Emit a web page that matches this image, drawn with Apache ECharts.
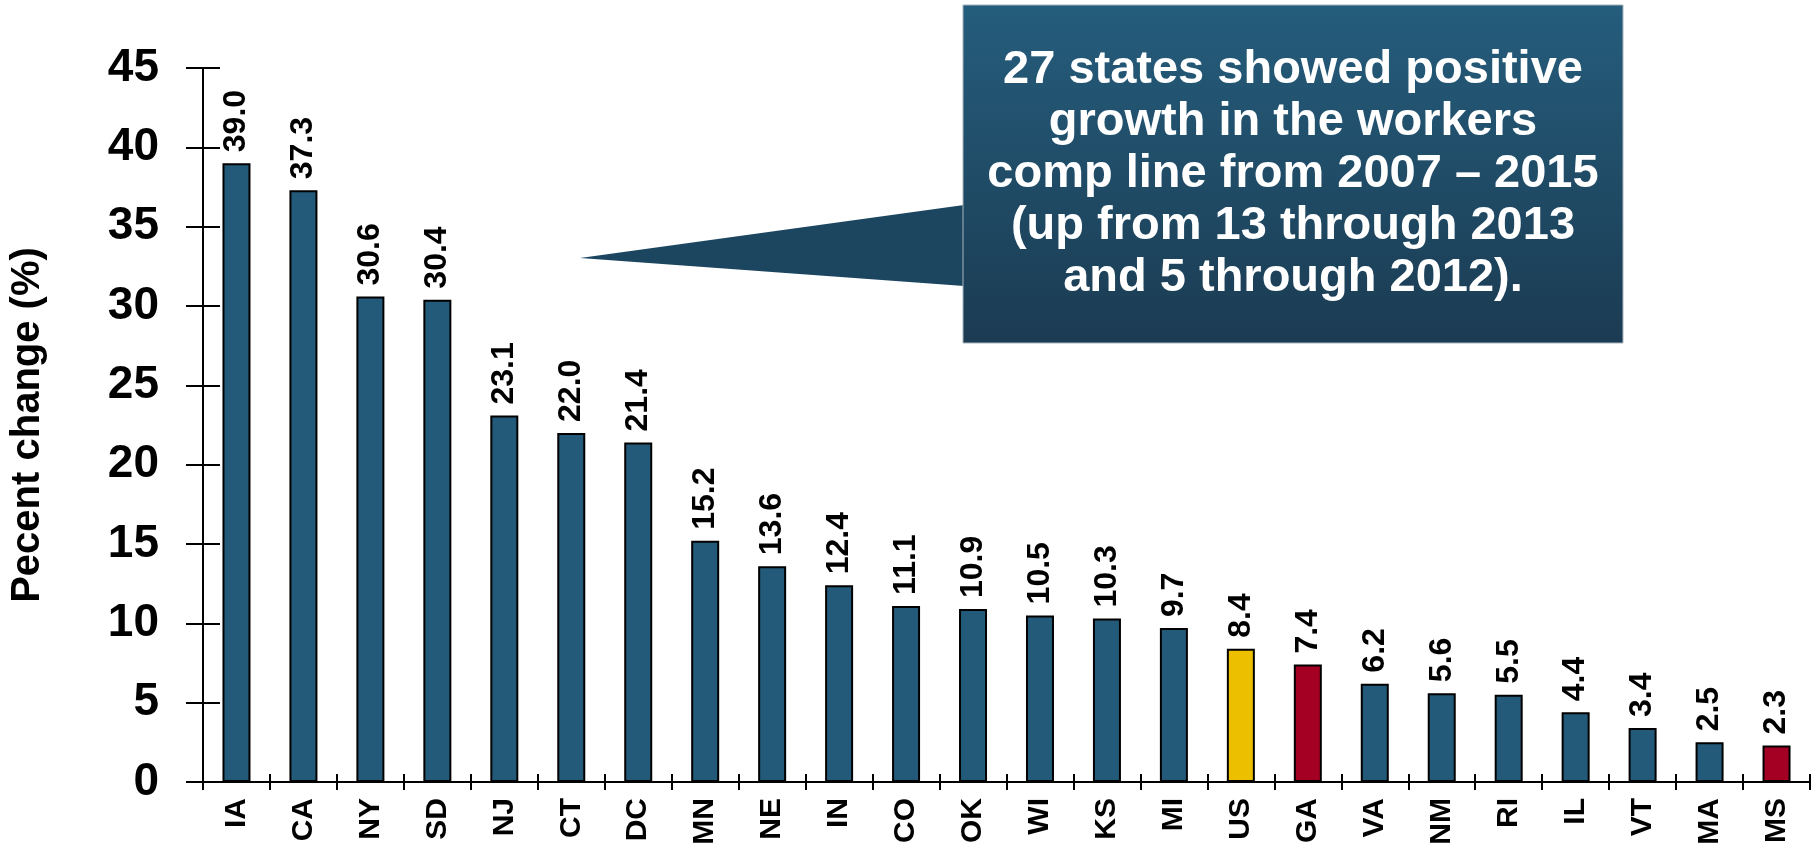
<!DOCTYPE html>
<html>
<head>
<meta charset="utf-8">
<script src="https://cdn.jsdelivr.net/npm/echarts@6/dist/echarts.min.js"></script>
<style>
  html, body { margin: 0; padding: 0; background: #fff; }
  #main { width: 1814px; height: 850px; }
</style>
</head>
<body>
<div id="main"></div>
<script>
// states, ordered as in the chart
var states = ['IA','CA','NY','SD','NJ','CT','DC','MN','NE','IN','CO','OK','WI','KS','MI','US','GA','VA','NM','RI','IL','VT','MA','MS'];
// percent change 2007-2015
var pctChange = [39.0,37.3,30.6,30.4,23.1,22.0,21.4,15.2,13.6,12.4,11.1,10.9,10.5,10.3,9.7,8.4,7.4,6.2,5.6,5.5,4.4,3.4,2.5,2.3];
var yTicks = [0,5,10,15,20,25,30,35,40,45];
var calloutLines = [
  '27 states showed positive',
  'growth in the workers',
  'comp line from 2007 \u2013 2015',
  '(up from 13 through 2013',
  'and 5 through 2012).'
];

var FONT = "'Liberation Sans', Arial, sans-serif";
var BLUE = '#235a79', YELLOW = '#ecbf00', RED = '#a30024';

function barColor(st) {
  if (st === 'US') return YELLOW;
  if (st === 'GA' || st === 'MS') return RED;
  return BLUE;
}

var myChart = echarts.init(document.getElementById('main'));

var barData = pctChange.map(function (v, i) {
  return { value: v, itemStyle: { color: barColor(states[i]) } };
});

var option = {
  animation: false,
  backgroundColor: '#fff',
  grid: { left: 202, right: 4, top: 68, bottom: 68, containLabel: false },
  xAxis: [{
    type: 'category',
    data: states,
    position: 'bottom',
    axisLine: { lineStyle: { color: '#000', width: 2 } },
    axisTick: { show: true, length: 8, lineStyle: { color: '#000', width: 2 } },
    axisLabel: {
      rotate: 90, margin: 16, fontSize: 30, fontWeight: 'bold',
      color: '#000', fontFamily: FONT, interval: 0
    }
  }, {
    // second axis only to make the ticks cross the line
    type: 'category',
    data: states,
    position: 'bottom',
    axisLine: { show: false },
    axisTick: { show: true, inside: true, length: 8, lineStyle: { color: '#000', width: 2 } },
    axisLabel: { show: false }
  }],
  yAxis: [{
    type: 'value',
    min: yTicks[0],
    max: yTicks[yTicks.length - 1],
    interval: 5,
    position: 'left',
    name: 'Pecent change (%)',
    nameLocation: 'middle',
    nameGap: 155,
    nameTextStyle: { fontSize: 40, fontWeight: 'bold', color: '#000', fontFamily: FONT },
    axisLine: { show: true, lineStyle: { color: '#000', width: 2 } },
    axisTick: { show: true, length: 17, lineStyle: { color: '#000', width: 2 } },
    axisLabel: { margin: 44, fontSize: 46, fontWeight: 'bold', color: '#000', fontFamily: FONT },
    splitLine: { show: false }
  }, {
    type: 'value',
    min: yTicks[0],
    max: yTicks[yTicks.length - 1],
    interval: 5,
    position: 'left',
    axisLine: { show: false },
    axisTick: { show: true, inside: true, length: 17, lineStyle: { color: '#000', width: 2 } },
    axisLabel: { show: false },
    splitLine: { show: false }
  }],
  series: [{
    type: 'bar',
    data: barData,
    barWidth: 28,
    itemStyle: { borderColor: '#000', borderWidth: 2 },
    label: {
      show: true,
      position: 'top',
      rotate: 90,
      align: 'left',
      verticalAlign: 'middle',
      distance: 11,
      fontSize: 32,
      fontWeight: 'bold',
      color: '#000',
      fontFamily: FONT,
      formatter: function (p) { return p.value.toFixed(1); }
    }
  }],
  graphic: [{
    type: 'polygon',
    shape: { points: [[580, 258], [964, 205], [964, 286]] },
    style: { fill: '#1c4660' },
    z: 10
  }, {
    type: 'rect',
    shape: { x: 963, y: 5, width: 660, height: 338 },
    style: {
      fill: new echarts.graphic.LinearGradient(0, 0, 0, 1, [
        { offset: 0, color: '#255d7c' },
        { offset: 1, color: '#1b3b52' }
      ]),
      stroke: '#a7b4bd',
      lineWidth: 1
    },
    z: 10
  }, {
    type: 'text',
    x: 1293,
    y: 174,
    style: {
      text: calloutLines.join('\n'),
      fill: '#fff',
      font: 'bold 47px ' + FONT,
      align: 'center',
      verticalAlign: 'middle',
      lineHeight: 52
    },
    z: 11
  }]
};

myChart.setOption(option);
</script>
</body>
</html>
